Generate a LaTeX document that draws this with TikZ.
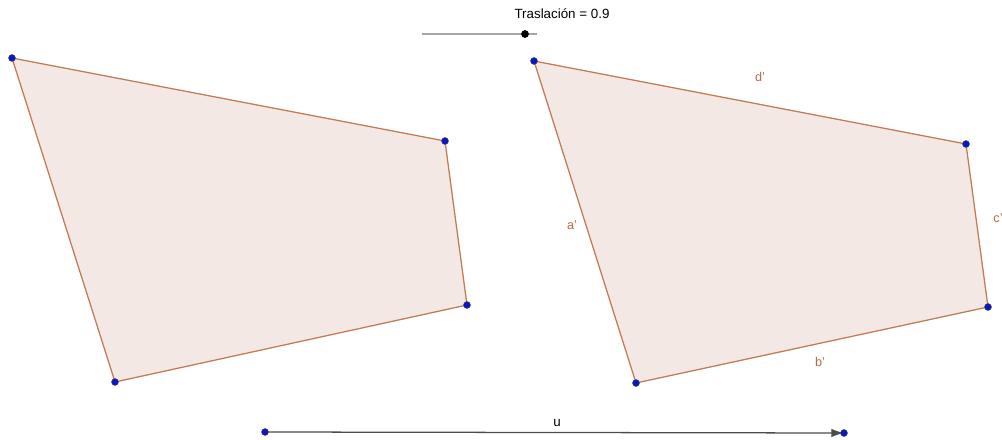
\documentclass[tikz,border=0pt]{standalone}
\usepackage{fontspec}
\setmainfont{Liberation Sans}
\usetikzlibrary{arrows.meta}
\definecolor{polyfill}{HTML}{F4E8E4}
\definecolor{polyedge}{HTML}{C47A55}
\definecolor{lbl}{HTML}{B86A45}
\definecolor{ptblue}{HTML}{0A14C8}
\tikzset{
  poly/.style={draw=polyedge, fill=polyfill, line width=0.9pt, line join=round},
  vtx/.style={circle, fill=ptblue, draw=black!70, line width=0.3pt, inner sep=0pt, minimum size=5pt},
  edgelbl/.style={text=lbl, font=\fontsize{9}{10}\selectfont, inner sep=1pt},
  txt/.style={font=\fontsize{9.5}{11}\selectfont, inner sep=1pt},
}
\begin{document}
\begin{tikzpicture}[x=0.025cm,y=-0.025cm]
\useasboundingbox (0,0) rectangle (1002,440);
% left polygon
\coordinate (A) at (12,58);
\coordinate (B) at (445,141);
\coordinate (C) at (467,305);
\coordinate (D) at (115,382);
\filldraw[poly] (A) -- (B) -- (C) -- (D) -- cycle;
% right polygon
\coordinate (A2) at (534,61);
\coordinate (B2) at (966,144);
\coordinate (C2) at (988,307);
\coordinate (D2) at (636,383);
\filldraw[poly] (A2) -- (B2) -- (C2) -- (D2) -- cycle;
% edge labels
\node[edgelbl] (ld) at (760,77) {d'};
\node[edgelbl] (la) at (572,225) {a'};
\node[edgelbl] (lc) at (998,218) {c'};
\node[edgelbl] (lb) at (820,362) {b'};
% vector u
\coordinate (U1) at (265,432);
\coordinate (U2) at (844,433);
\draw[black!70, line width=0.9pt, -{Latex[length=9pt,width=6pt]}] (U1) -- (U2);
\node[txt] (lu) at (557,423) {u};
% vertices
\foreach \p in {A,B,C,D,A2,B2,C2,D2,U1,U2} \node[vtx] at (\p) {};
% slider
\coordinate (S1) at (422,34);
\coordinate (S2) at (537,34);
\draw[black!35, line width=1.5pt] (S1) -- (S2);
\node[circle, fill=black, inner sep=0pt, minimum size=5.5pt] (sk) at (525,34) {};
\node[txt] (st) at (562,14) {Traslación = 0.9};
\end{tikzpicture}
\end{document}
